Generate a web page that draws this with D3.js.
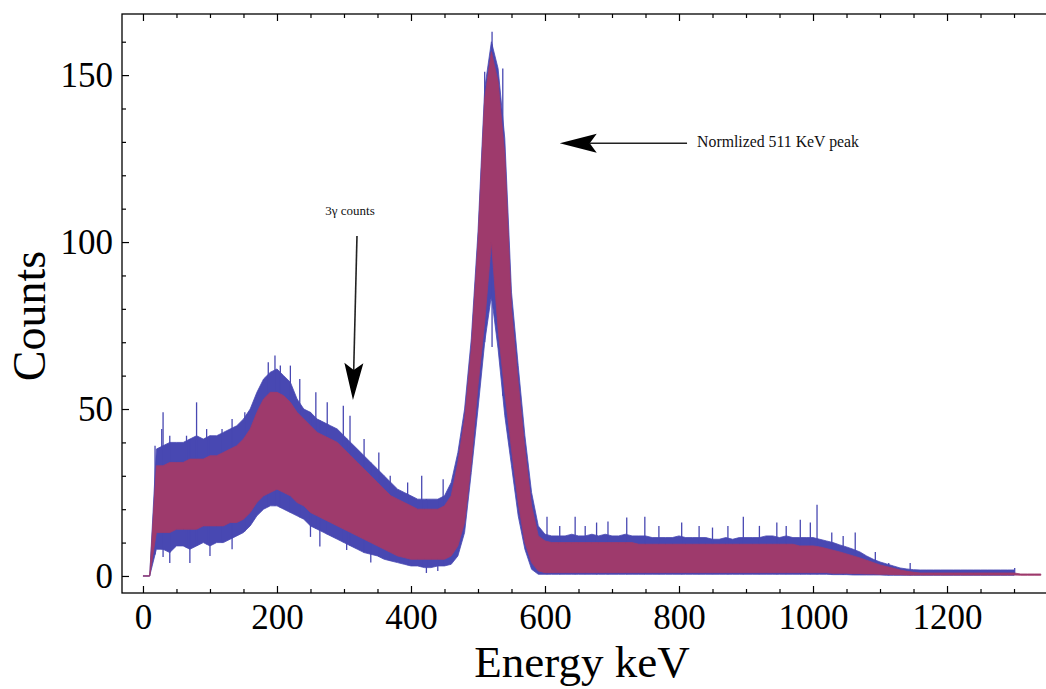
<!DOCTYPE html>
<html lang="en">
<head>
    <meta charset="utf-8" />
    <title>Energy spectrum - 3 gamma counts</title>
    <script src="https://d3js.org/d3.v7.min.js"></script>
    <style>
        body {
            margin: 0;
            padding: 0;
            background: #ffffff;
        }
        svg {
            display: block;
        }
    </style>
</head>
<body>
<svg id="chart"></svg>
<script>
    var w = 1046;
    var h = 689;

    // Energy grid (keV), one entry per reading
    var energy = [
        0, 10, 20, 30, 40, 50, 60, 70, 80, 90,
        100, 110, 120, 130, 140, 150, 160, 170, 180, 190,
        200, 210, 220, 230, 240, 250, 260, 270, 280, 290,
        300, 310, 320, 330, 340, 350, 360, 370, 380, 390,
        400, 410, 420, 430, 440, 450, 460, 470, 480, 490,
        500, 510, 520, 530, 540, 550, 560, 570, 580, 590,
        600, 610, 620, 630, 640, 650, 660, 670, 680, 690,
        700, 710, 720, 730, 740, 750, 760, 770, 780, 790,
        800, 810, 820, 830, 840, 850, 860, 870, 880, 890,
        900, 910, 920, 930, 940, 950, 960, 970, 980, 990,
        1000, 1010, 1020, 1030, 1040, 1050, 1060, 1070, 1080, 1090,
        1100, 1110, 1120, 1130, 1140, 1150, 1160, 1170, 1180, 1190,
        1200, 1210, 1220, 1230, 1240, 1250, 1260, 1270, 1280, 1290,
        1300, 1310, 1320, 1330, 1340
    ];

    // Normalized spectrum (pink): top and bottom of the noisy band
    var pinkUpper = [
        0, 0, 33, 33, 34, 34, 34, 35, 35, 35,
        36, 36, 37, 38, 39, 41, 44, 49, 53, 55,
        55, 54, 52, 49, 47, 45, 43, 42, 41, 40,
        38, 36, 34, 32, 30, 28, 26, 24, 23, 22,
        21, 20, 20, 20, 20, 21, 24, 34, 47, 68,
        100, 143, 157, 148, 126, 80, 58, 38, 21, 12,
        10.5, 10, 10, 10, 10, 10, 10, 10, 10, 10,
        10, 10, 10, 10, 9.5, 9.5, 9.5, 9.5, 9.5, 9.5,
        9.5, 9.5, 9.5, 9.5, 9.5, 9.5, 9.5, 9.5, 9.5, 9.5,
        9.5, 9.5, 9.5, 9.5, 9.5, 9.5, 9.5, 9.5, 9, 9,
        9, 8.7, 8.2, 7.7, 7.2, 6.6, 6, 5.4, 4.7, 4,
        3.3, 2.8, 2.3, 1.8, 1.4, 1.1, 0.9, 0.9, 0.9, 0.9,
        0.9, 0.9, 0.9, 0.9, 0.9, 0.9, 0.9, 0.9, 0.9, 0.9,
        0.9, 0.6, 0.6, 0.6, 0.6
    ];
    var pinkLower = [
        0, 0, 13, 13, 13, 14, 14, 14, 14, 15,
        15, 15, 15, 16, 16, 17, 19, 22, 24, 25,
        26, 25, 24, 22, 21, 19, 18, 17, 16, 15,
        14, 13, 12, 11, 10, 9, 8, 7, 6, 5.5,
        5, 5, 5, 5, 5, 5, 6, 9, 16, 34,
        57, 76, 100, 74, 55, 38, 22, 10, 4, 1.5,
        1, 1, 1, 1, 1, 1, 1, 1, 1, 1,
        1, 1, 1, 1, 1, 1, 1, 1, 1, 1,
        1, 1, 1, 1, 1, 1, 1, 1, 1, 1,
        1, 1, 1, 1, 1, 1, 1, 1, 1, 1,
        1, 1, 1, 0.8, 0.8, 0.8, 0.7, 0.7, 0.6, 0.6,
        0.5, 0.5, 0.4, 0.4, 0.3, 0.3, 0.3, 0.3, 0.3, 0.3,
        0.3, 0.3, 0.3, 0.3, 0.3, 0.3, 0.3, 0.3, 0.3, 0.3,
        0.3, 0.2, 0.2, 0.2, 0.2
    ];

    // Raw spectrum (blue), ends at 1300 keV
    var blueUpper = [
        0, 0, 38, 39, 40, 40, 40, 41, 42, 41,
        42, 42, 43, 44, 45, 47, 50, 55, 59, 61,
        62, 60, 58, 53, 50, 49, 47, 46, 45, 44,
        42, 40, 38, 36, 34, 32, 30, 28, 26, 25,
        24, 23, 23, 23, 23, 24, 28, 37, 50, 71,
        103, 146, 160, 152, 131, 85, 63, 42, 25, 15,
        12.5, 12, 12, 12, 12.5, 12, 12, 12.5, 12, 12.5,
        12, 12, 12.5, 12, 12, 12, 11.5, 11.5, 11.5, 11.5,
        12, 11.5, 11.5, 11.5, 11.5, 11, 11, 11.5, 11, 11.5,
        11.5, 11.5, 11.5, 12, 12, 11.5, 12, 11.5, 11.5, 11.5,
        11.5, 11, 10.5, 10, 9.3, 8.7, 8, 7.2, 6, 5,
        4.2, 3.6, 3, 2.4, 2.1, 1.9, 1.8, 1.8, 1.8, 1.8,
        1.8, 1.8, 1.8, 1.8, 1.8, 1.8, 1.8, 1.8, 1.8, 1.8,
        1.8
    ];
    var blueLower = [
        0, 0, 8, 8, 7, 9, 9, 8, 9, 10,
        9, 10, 10, 11, 12, 13, 15, 18, 20, 21,
        21, 20, 19, 18, 17, 15, 14, 13, 12, 11,
        10, 9, 8, 7, 6.5, 6, 5, 4.5, 4, 3.5,
        3, 3, 2.5, 2.5, 3, 3, 3.5, 6, 13, 31,
        50, 70, 84, 68, 48, 33, 18, 8, 2, 0.5,
        0.5, 0.5, 0.5, 0.5, 0.5, 0.5, 0.5, 0.5, 0.5, 0.5,
        0.5, 0.5, 0.5, 0.5, 0.5, 0.5, 0.5, 0.5, 0.5, 0.5,
        0.5, 0.5, 0.5, 0.5, 0.5, 0.5, 0.5, 0.5, 0.5, 0.5,
        0.5, 0.5, 0.5, 0.5, 0.5, 0.5, 0.5, 0.5, 0.5, 0.5,
        0.5, 0.5, 0.5, 0.4, 0.4, 0.4, 0.3, 0.3, 0.3, 0.3,
        0.3, 0.2, 0.2, 0.2, 0.2, 0.2, 0.2, 0.2, 0.2, 0.2,
        0.2, 0.2, 0.2, 0.2, 0.2, 0.2, 0.2, 0.2, 0.2, 0.2,
        0.2
    ];

    // Single tall channels of the raw spectrum: [keV, counts]
    var blueSpikesUp = [
        [18, 39], [28, 44], [30, 49], [40, 42], [65, 42], [80, 52], [95, 44],
        [118, 44], [133, 47], [152, 49], [187, 64], [197, 66], [205, 63],
        [220, 63], [234, 59], [258, 55], [275, 52], [299, 51], [309, 48],
        [330, 41], [352, 37], [369, 30], [395, 28], [416, 30], [448, 29],
        [510, 151], [521, 163], [537, 152], [603, 17.7], [622, 15],
        [645, 17.7], [660, 15], [677, 16], [694, 16.3], [722, 17.5],
        [749, 17.7], [770, 15], [804, 16], [830, 15], [850, 14.5], [873, 15],
        [896, 17.7], [920, 15], [946, 16], [960, 15], [981, 16.8], [996, 16],
        [1006, 21.3], [1028, 13], [1045, 12], [1063, 13], [1093, 7.2],
        [1113, 3.9], [1145, 3.9], [1301, 2.4]
    ];
    // Single low channels of the raw spectrum: [keV, counts]
    var blueSpikesDown = [
        [30, 5.7], [40, 3.9], [70, 3.9], [100, 6], [133, 8], [250, 11.7],
        [264, 8.8], [304, 7.8], [340, 4], [423, 0.9], [440, 1.5], [521, 68.6]
    ];

    var xMajorTicks = [0, 200, 400, 600, 800, 1000, 1200];
    var yMajorTicks = [0, 50, 100, 150];

    var blueColor = "#4848b2";
    var pinkColor = "#9e3a6c";
    var serif = "'Liberation Serif', 'Times New Roman', serif";

    var svg = d3.select("#chart")
        .attr("width", w)
        .attr("height", h);

    // Frame edges follow the axis domains (Mathematica style padding)
    var xScale = d3.scaleLinear()
        .domain([-31.3, 1353.7])
        .range([122, 1050]);
    var yScale = d3.scaleLinear()
        .domain([-5.1, 168.3])
        .range([593, 14]);

    var x0 = xScale.range()[0], x1 = xScale.range()[1];
    var y0 = yScale.range()[1], y1 = yScale.range()[0];

    svg.append("clipPath")
        .attr("id", "plotClip")
        .append("rect")
        .attr("x", x0)
        .attr("y", y0)
        .attr("width", x1 - x0)
        .attr("height", y1 - y0);

    var plot = svg.append("g").attr("clip-path", "url(#plotClip)");

    function makeRows(upper, lower) {
        return upper.map(function(d, i) {
            return {e: energy[i], hi: d, lo: lower[i]};
        });
    }
    var blueRows = makeRows(blueUpper, blueLower);
    var pinkRows = makeRows(pinkUpper, pinkLower);

    var band = d3.area()
        .x(function(d) { return xScale(d.e); })
        .y0(function(d) { return yScale(d.lo); })
        .y1(function(d) { return yScale(d.hi); });

    // Piecewise lookup of the blue band edges for the spike lines
    var blueE = energy.slice(0, blueUpper.length);
    var blueHiAt = d3.scaleLinear().domain(blueE).range(blueUpper).clamp(true);
    var blueLoAt = d3.scaleLinear().domain(blueE).range(blueLower).clamp(true);

    // Raw spectrum band
    plot.append("path")
        .datum(blueRows)
        .attr("d", band)
        .attr("fill", blueColor)
        .attr("stroke", blueColor)
        .attr("stroke-width", 0.8);

    plot.selectAll(".spikeUp")
        .data(blueSpikesUp)
        .enter().append("line")
        .attr("class", "spikeUp")
        .attr("x1", function(d) { return xScale(d[0]); })
        .attr("x2", function(d) { return xScale(d[0]); })
        .attr("y1", function(d) { return yScale(blueLoAt(d[0])); })
        .attr("y2", function(d) { return yScale(d[1]); })
        .attr("stroke", blueColor)
        .attr("stroke-width", 1.3);

    plot.selectAll(".spikeDown")
        .data(blueSpikesDown)
        .enter().append("line")
        .attr("class", "spikeDown")
        .attr("x1", function(d) { return xScale(d[0]); })
        .attr("x2", function(d) { return xScale(d[0]); })
        .attr("y1", function(d) { return yScale(blueHiAt(d[0])); })
        .attr("y2", function(d) { return yScale(d[1]); })
        .attr("stroke", blueColor)
        .attr("stroke-width", 1.3);

    // Normalized spectrum band on top
    plot.append("path")
        .datum(pinkRows)
        .attr("d", band)
        .attr("fill", pinkColor)
        .attr("stroke", pinkColor)
        .attr("stroke-width", 0.8);

    // Ticks: minor every 50 keV / 10 counts, all pointing inward
    var xMinor = d3.range(0, 1351, 50).filter(function(v) { return xMajorTicks.indexOf(v) < 0; });
    var yMinor = d3.range(0, 161, 10).filter(function(v) { return yMajorTicks.indexOf(v) < 0; });

    function styleAxis(g) {
        g.select(".domain").remove();
        g.selectAll("line").attr("stroke", "#000").attr("stroke-width", 1.2);
        g.selectAll("text")
            .attr("font-family", serif)
            .attr("font-size", "35px")
            .attr("fill", "#000");
    }

    svg.append("g")
        .attr("transform", "translate(0," + y1 + ")")
        .call(d3.axisBottom(xScale).tickValues(xMajorTicks).tickSize(-7).tickPadding(11).tickFormat(d3.format("d")))
        .call(styleAxis);
    svg.append("g")
        .attr("transform", "translate(0," + y1 + ")")
        .call(d3.axisBottom(xScale).tickValues(xMinor).tickSize(-4).tickFormat(""))
        .call(styleAxis);
    svg.append("g")
        .attr("transform", "translate(0," + y0 + ")")
        .call(d3.axisTop(xScale).tickValues(xMajorTicks).tickSize(-7).tickFormat(""))
        .call(styleAxis);
    svg.append("g")
        .attr("transform", "translate(0," + y0 + ")")
        .call(d3.axisTop(xScale).tickValues(xMinor).tickSize(-4).tickFormat(""))
        .call(styleAxis);
    svg.append("g")
        .attr("transform", "translate(" + x0 + ",0)")
        .call(d3.axisLeft(yScale).tickValues(yMajorTicks).tickSize(-7).tickPadding(9).tickFormat(d3.format("d")))
        .call(styleAxis);
    svg.append("g")
        .attr("transform", "translate(" + x0 + ",0)")
        .call(d3.axisLeft(yScale).tickValues(yMinor).tickSize(-4).tickFormat(""))
        .call(styleAxis);

    // Frame
    svg.append("rect")
        .attr("x", x0)
        .attr("y", y0)
        .attr("width", x1 - x0)
        .attr("height", y1 - y0)
        .attr("fill", "none")
        .attr("stroke", "#000")
        .attr("stroke-width", 1.3);

    // Axis labels
    svg.append("text")
        .attr("x", 582)
        .attr("y", 677)
        .attr("text-anchor", "middle")
        .attr("font-family", serif)
        .attr("font-size", "45px")
        .text("Energy keV");

    svg.append("text")
        .attr("transform", "translate(45,316) rotate(-90)")
        .attr("text-anchor", "middle")
        .attr("font-family", serif)
        .attr("font-size", "46px")
        .text("Counts");

    // Annotations (positions in keV / counts)
    var notes = [
        {text: "3\u03b3 counts", tx: 309, ty: 108, anchor: "middle", size: 13,
         from: [319.4, 101.8], to: [313.4, 52.7]},
        {text: "Normlized 511 KeV peak", tx: 827, ty: 128.4, anchor: "start", size: 15.8,
         from: [812, 129.6], to: [622, 129.6]}
    ];

    notes.forEach(function(n) {
        var fx = xScale(n.from[0]), fy = yScale(n.from[1]);
        var tx = xScale(n.to[0]), ty = yScale(n.to[1]);
        var ang = Math.atan2(ty - fy, tx - fx) * 180 / Math.PI;
        var len = Math.hypot(tx - fx, ty - fy);

        svg.append("text")
            .attr("x", xScale(n.tx))
            .attr("y", yScale(n.ty))
            .attr("text-anchor", n.anchor)
            .attr("font-family", serif)
            .attr("font-size", n.size + "px")
            .attr("fill", "#111")
            .text(n.text);

        var g = svg.append("g")
            .attr("transform", "translate(" + fx + "," + fy + ") rotate(" + ang + ")");
        g.append("line")
            .attr("x1", 0).attr("y1", 0)
            .attr("x2", len - 30).attr("y2", 0)
            .attr("stroke", "#222")
            .attr("stroke-width", 1.6);
        g.append("path")
            .attr("d", "M" + len + ",0 L" + (len - 37) + ",-9.5 L" + (len - 30) + ",0 L" + (len - 37) + ",9.5 Z")
            .attr("fill", "#000");
    });
</script>
</body>
</html>
